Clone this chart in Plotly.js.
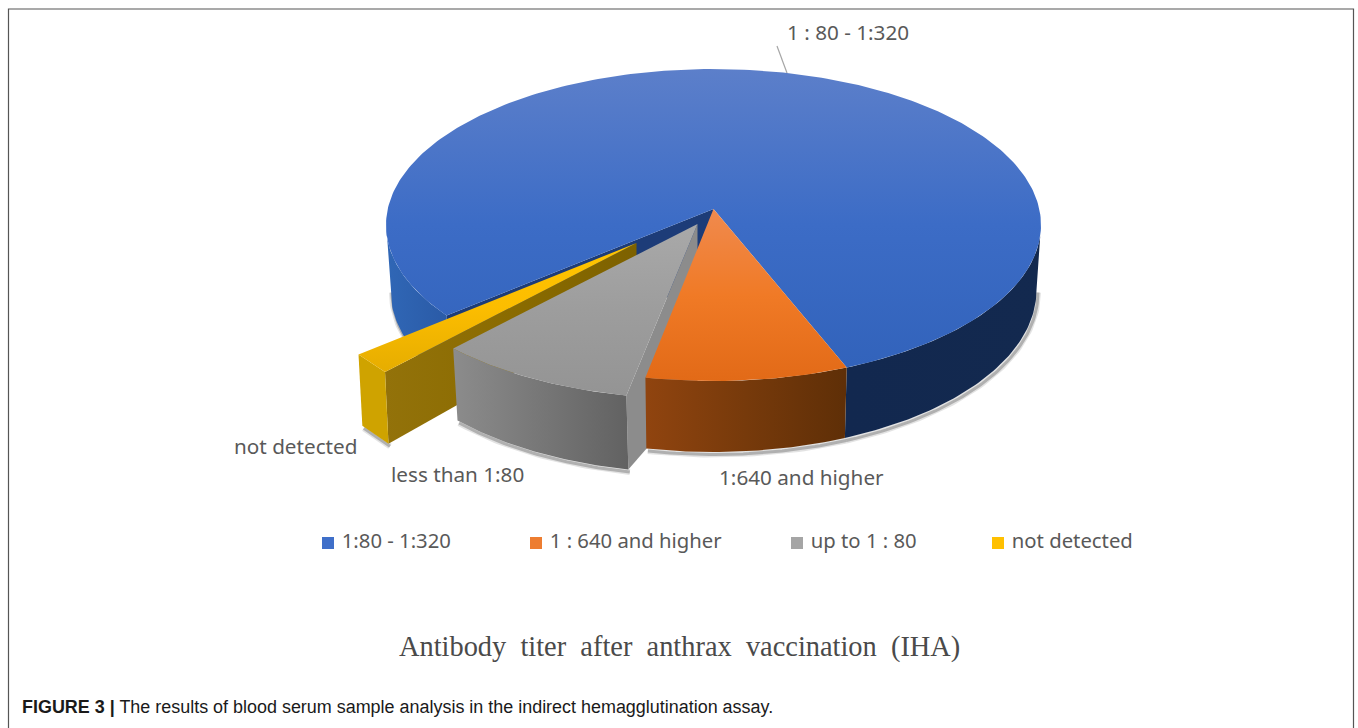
<!DOCTYPE html>
<html>
<head>
<meta charset="utf-8">
<script src="https://cdn.plot.ly/plotly-3.0.1.min.js"></script>
<style>html,body{margin:0;padding:0;background:#fff;overflow:hidden}#chart{width:1358px;height:728px}</style>
</head>
<body>
<div id="chart"></div>
<script>
// Data (percent of samples)
const legendLabels = ['1:80 - 1:320', '1 : 640 and higher', 'up to 1 : 80', 'not detected'];
const sliceLabels = ['1 : 80 - 1:320', '1:640 and higher', 'less than 1:80', 'not detected'];
const sliceValues = [77.2, 10.0, 10.6, 2.2];
const legendColors = ['#3f6fc9', '#ed7d31', '#a5a5a5', '#ffc000'];

// Pie geometry (oblique 3D look)
const START = 66;
const TOP = {cx: 713.5, cy: 225, rx: 327.5, ry: 156};
const BOT = {cx: 713.5, cy: 290, rx: 323, ry: 162};
const TIP = [713.5, 209];
const rad = d => d * Math.PI / 180;
const pt = (e, t, o) => [e.cx + e.rx * Math.cos(rad(t)) + o[0], e.cy + e.ry * Math.sin(rad(t)) + o[1]];
function arc(e, a, b, o) {
  const out = [], n = Math.max(2, Math.ceil(Math.abs(b - a)));
  for (let i = 0; i <= n; i++) out.push(pt(e, a + (b - a) * i / n, o));
  return out;
}
function poly(points, fill, gradient) {
  const tr = {
    type: 'scatter', mode: 'lines', x: points.map(p => p[0]), y: points.map(p => p[1]),
    fill: 'toself', line: {width: 0}, hoverinfo: 'skip', showlegend: false
  };
  if (fill) tr.fillcolor = fill;
  if (gradient) tr.fillgradient = gradient;
  return tr;
}
const grad = (type, start, stop, stops) => ({
  type, start, stop, colorscale: stops.map((c, i) => [i / (stops.length - 1), c])
});
function shadow(points, width, alpha) {
  return {
    type: 'scatter', mode: 'lines', x: points.map(p => p[0] + 1.5), y: points.map(p => p[1] + 2.5),
    line: {width, color: 'rgba(60,60,60,' + alpha + ')'}, hoverinfo: 'skip', showlegend: false
  };
}

// Slice angle spans derived from the values: clockwise orange, gray, yellow, blue
const deg = v => v * 3.6;
const oA = START, oB = oA + deg(sliceValues[1]);
const gA = oB, gB = gA + deg(sliceValues[2]);
const yA = gB, yB = yA + deg(sliceValues[3]);
const bA = yB, bB = START + 360;
const gEnd = gB - 2.7;      // exploded gray piece is drawn slightly inset
const bEdge = bA - 3.5;     // blue top edge meets the yellow piece

const zero = [0, 0];
const gT = [-16, 15], gR = [-19, 18], gD = [-18, 21];   // gray explosion: tip, rim, bottom
const yT = [-77, 34], yR = [-77, 47], yD = [-77, 50];   // yellow explosion: tip, rim, bottom
const add = (p, o) => [p[0] + o[0], p[1] + o[1]];
const traces = [];

// soft shadows under the bottom edges
[[6, 0.14], [3, 0.3]].forEach(([w, a]) => {
  traces.push(shadow(arc(BOT, 360, bB, zero), w, a));
  traces.push(shadow(arc(BOT, oA, oB, zero), w, a));
  traces.push(shadow(arc(BOT, bA, 180, zero), w, a));
  traces.push(shadow(arc(BOT, gA, gEnd, gD), w, a));
  traces.push(shadow([pt(BOT, yA, yD), pt(BOT, yB, yD)], w, a));
});

// blue: sides, inner wall, top
traces.push(poly(arc(TOP, 360, bB, zero).concat(arc(BOT, bB, 360, zero)), null,
  grad('horizontal', 845, 1041, ['#12284f', '#13294f'])));
traces.push(poly(arc(TOP, bEdge, 181, zero).concat(arc(BOT, 181, bEdge, zero)), null,
  grad('horizontal', 386, 450, ['#3067b6', '#2a5aa6'])));
traces.push(poly([TIP, pt(TOP, bEdge, zero), pt(BOT, bEdge, zero), add(TIP, [0, 70])], '#1d3c78'));
traces.push(poly([TIP].concat(arc(TOP, bEdge, bB, zero)), null,
  grad('vertical', 69, 381, ['#5c7fca', '#3c6cc6', '#3162ba'])));

// gray inner wall (under orange)
traces.push(poly([add(TIP, gT), pt(TOP, gA, gR), pt(BOT, gA, gD), add(TIP, [-16, 181])], '#8c8c8c'));

// orange: side and top
traces.push(poly(arc(TOP, oA, oB, zero).concat(arc(BOT, oB, oA, zero)), null,
  grad('horizontal', 645, 845, ['#90440f', '#773a0b', '#5f2f07'])));
traces.push(poly([TIP].concat(arc(TOP, oA, oB, zero)), null,
  grad('vertical', 209, 381, ['#f08a4e', '#f07a26', '#e26a17'])));

// yellow: inner wall, outer end
traces.push(poly([add(TIP, yT), pt(TOP, yA, yR), pt(BOT, yA, yD), add(TIP, [-77, 95])], null,
  grad('horizontal', 385, 640, ['#93720a', '#8a6b00', '#7d6100'])));
traces.push(poly([pt(TOP, yA, yR), pt(TOP, yB, yR), pt(BOT, yB, yD), pt(BOT, yA, yD)], '#cfa300'));

// gray: side and top
traces.push(poly(arc(TOP, gA, gEnd, gR).concat(arc(BOT, gEnd, gA, gD)), null,
  grad('horizontal', 453, 627, ['#8c8c8c', '#777777', '#626262'])));
traces.push(poly([add(TIP, gT)].concat(arc(TOP, gA, gEnd, gR)), null,
  grad('vertical', 224, 395, ['#a9a9a9', '#9d9d9d', '#949494'])));

// yellow top
traces.push(poly([add(TIP, yT), pt(TOP, yA, yR), pt(TOP, yB, yR)], null,
  grad('vertical', 243, 372, ['#ffc400', '#fcbd00', '#e6ad00'])));

// legend row
const legendX = [328, 536, 797, 998];
legendLabels.forEach((name, i) => traces.push({
  type: 'scatter', mode: 'markers+text', name,
  x: [legendX[i]], y: [543], text: ['\u00A0' + name], textposition: 'middle right',
  marker: {symbol: 'square', size: 12, color: legendColors[i]},
  textfont: {family: 'Noto Sans, Open Sans, sans-serif', size: 20.3, color: '#595959'},
  hoverinfo: 'name', showlegend: false, cliponaxis: false
}));

const labelFont = {family: 'Noto Sans, Open Sans, sans-serif', size: 20.7, color: '#595959'};
const sliceLabelPos = [[848, 32], [801, 477], [457, 474], [295, 446]];
const annotations = sliceLabels.map((text, i) => ({
  text, x: sliceLabelPos[i][0], y: sliceLabelPos[i][1], xref: 'x', yref: 'y',
  showarrow: false, font: labelFont, xanchor: 'center', yanchor: 'middle'
}));
annotations.push({
  text: 'Antibody&#160;&#160;titer&#160;&#160;after&#160;&#160;anthrax&#160;&#160;vaccination&#160;&#160;(IHA)',
  x: 679, y: 647, xref: 'x', yref: 'y', showarrow: false, xanchor: 'center', yanchor: 'middle',
  font: {family: 'Liberation Serif, serif', size: 28.4, color: '#4a4a4a'}
});
annotations.push({
  text: '<b>FIGURE 3 |</b> The results of blood serum sample analysis in the indirect hemagglutination assay.',
  x: 20, y: 707, xref: 'x', yref: 'y', showarrow: false, xanchor: 'left', yanchor: 'middle',
  font: {family: 'Liberation Sans, Arial, sans-serif', size: 17.95, color: '#1a1a1a'}
});

const layout = {
  width: 1358, height: 728, margin: {l: 0, r: 0, t: 0, b: 0},
  paper_bgcolor: '#fff', plot_bgcolor: '#fff', showlegend: false,
  xaxis: {range: [0, 1358], visible: false, fixedrange: true},
  yaxis: {range: [728, 0], visible: false, fixedrange: true},
  annotations,
  shapes: [
    {type: 'rect', xref: 'x', yref: 'y', x0: 8.5, x1: 1353.5, y0: 9, y1: 740, line: {color: '#555', width: 1.2}, layer: 'below'},
    {type: 'line', xref: 'x', yref: 'y', x0: 777, y0: 46, x1: 787, y1: 73, line: {color: '#a6a6a6', width: 1.2}, layer: 'below'}
  ]
};
Plotly.newPlot('chart', traces, layout, {displayModeBar: false, staticPlot: true});
</script>
</body>
</html>
